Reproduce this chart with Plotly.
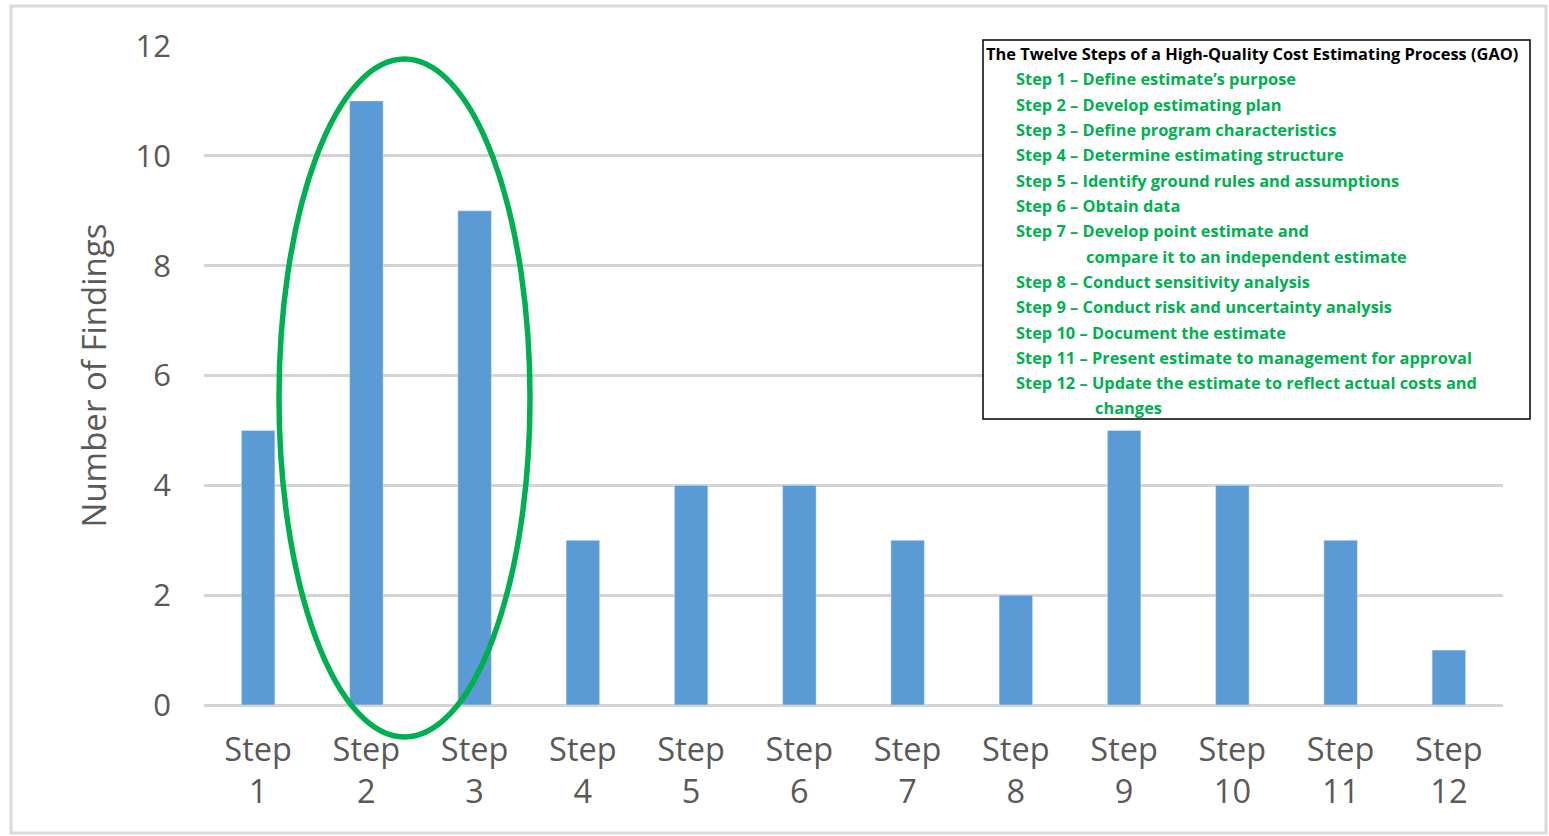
import plotly.graph_objects as go

categories = [f"Step {i}" for i in range(1, 13)]
tick_labels = [f"Step<br>{i}" for i in range(1, 13)]
findings = [5, 11, 9, 3, 4, 4, 3, 2, 5, 4, 3, 1]

legend_title = "The Twelve Steps of a High-Quality Cost Estimating Process (GAO)"
legend_lines = [
    ("Step 1 – Define estimate’s purpose", 0),
    ("Step 2 – Develop estimating plan", 0),
    ("Step 3 – Define program characteristics", 0),
    ("Step 4 – Determine estimating structure", 0),
    ("Step 5 – Identify ground rules and assumptions", 0),
    ("Step 6 – Obtain data", 0),
    ("Step 7 – Develop point estimate and", 0),
    ("compare it to an independent estimate", 1),
    ("Step 8 – Conduct sensitivity analysis", 0),
    ("Step 9 – Conduct risk and uncertainty analysis", 0),
    ("Step 10 – Document the estimate", 0),
    ("Step 11 – Present estimate to management for approval", 0),
    ("Step 12 – Update the estimate to reflect actual costs and", 0),
    ("changes", 2),
]

W, H = 1549, 836
L, R, T, B = 204, 46, 46, 131
pw, ph = W - L - R, H - T - B

def px(x):
    return (x - L) / pw

def py(y):
    return 1 - (y - T) / ph

fig = go.Figure()
fig.add_trace(go.Bar(
    x=list(range(12)), y=findings, marker_color="#5b9bd5",
    width=0.31, hoverinfo="y",
))

fig.update_layout(
    width=W, height=H,
    margin=dict(l=L, r=R, t=T, b=B),
    paper_bgcolor="white", plot_bgcolor="white",
    showlegend=False,
    font=dict(family="Open Sans, sans-serif", color="#595959"),
    xaxis=dict(
        tickmode="array", tickvals=list(range(12)), ticktext=tick_labels,
        range=[-0.5, 11.5], showgrid=False, zeroline=False,
        tickfont=dict(size=32.5, color="#595959"), ticks="",
        ticklabelstandoff=22,
        showline=False,
    ),
    yaxis=dict(
        range=[0, 12], dtick=2, showgrid=True, gridcolor="#d4d4d4", gridwidth=3,
        zeroline=True, zerolinecolor="#d4d4d4", zerolinewidth=3,
        tickfont=dict(size=31, color="#595959"), ticklabelstandoff=32,
        title=dict(text="Number of Findings", font=dict(size=33, color="#595959"), standoff=18),
    ),
)

# green ellipse around steps 2 and 3
fig.add_shape(type="circle", xref="paper", yref="paper",
              x0=px(279), x1=px(530), y0=py(737), y1=py(59),
              line=dict(color="#00b050", width=5.5), layer="above")

# outer light border
fig.add_shape(type="rect", xref="paper", yref="paper",
              x0=px(11), x1=px(1546), y0=py(833), y1=py(6),
              line=dict(color="#d9d9d9", width=3), layer="below")

# legend box
fig.add_shape(type="rect", xref="paper", yref="paper",
              x0=px(983), x1=px(1530), y0=py(419), y1=py(40),
              line=dict(color="black", width=1.5), fillcolor="white", layer="above")

fig.add_annotation(xref="paper", yref="paper", x=px(984), y=py(54),
                   text=f"<b>{legend_title}</b>", showarrow=False,
                   xanchor="left", yanchor="middle",
                   font=dict(family="Open Sans", size=16.4, color="black"))
indent = {0: 1014, 1: 1084, 2: 1093}
for i, (line, ind) in enumerate(legend_lines):
    fig.add_annotation(xref="paper", yref="paper", x=px(indent[ind]), y=py(79 + i * 25.3),
                       text=f"<b>{line}</b>", showarrow=False,
                       xanchor="left", yanchor="middle",
                       font=dict(family="Open Sans", size=16.4, color="#00b050"))

fig.write_html("out.html")
